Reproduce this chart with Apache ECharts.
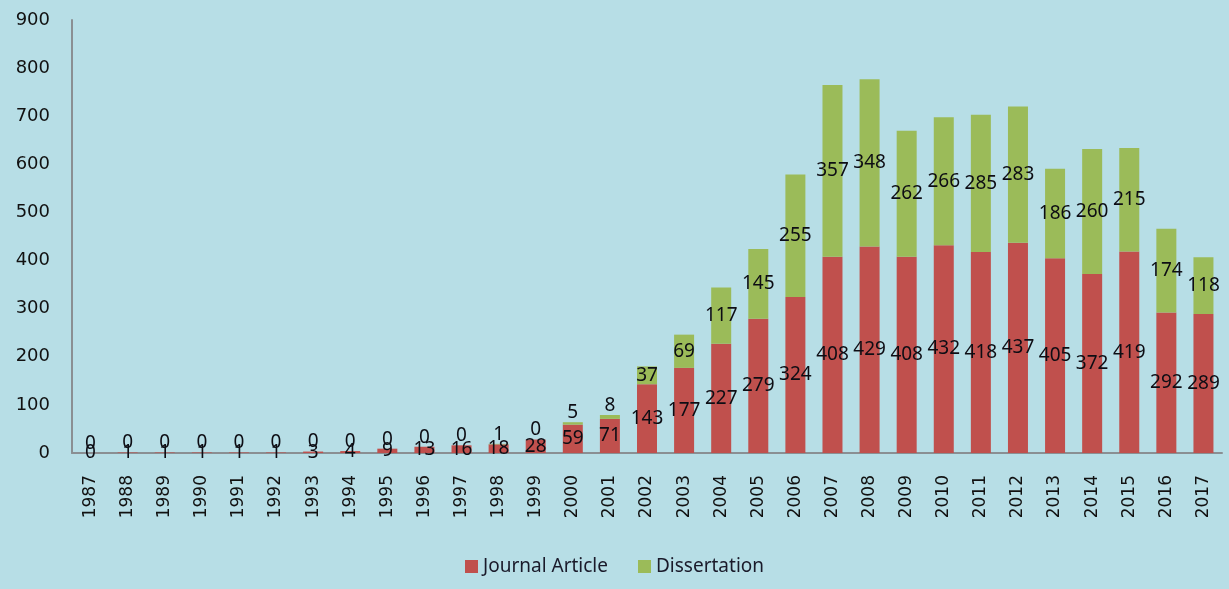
<!DOCTYPE html>
<html>
<head>
<meta charset="utf-8">
<title>Journal Article / Dissertation</title>
<script src="https://cdn.jsdelivr.net/npm/echarts@6/dist/echarts.min.js"></script>
<style>
  html, body { margin: 0; padding: 0; background: #b7dee6; }
  #chart { width: 1229px; height: 589px; }
</style>
</head>
<body>
<div id="chart"></div>
<script>
// 年份
const years = ['1987', '1988', '1989', '1990', '1991', '1992', '1993', '1994', '1995', '1996',
  '1997', '1998', '1999', '2000', '2001', '2002', '2003', '2004', '2005', '2006',
  '2007', '2008', '2009', '2010', '2011', '2012', '2013', '2014', '2015', '2016', '2017']
// 期刊论文
const journalArticle = [0, 1, 1, 1, 1, 1, 3, 4, 9, 13, 16, 18, 28, 59, 71, 143, 177, 227, 279, 324,
  408, 429, 408, 432, 418, 437, 405, 372, 419, 292, 289]
// 学位论文
const dissertation = [0, 0, 0, 0, 0, 0, 0, 0, 0, 0, 0, 1, 0, 5, 8, 37, 69, 117, 145, 255,
  357, 348, 262, 266, 285, 283, 186, 260, 215, 174, 118]
const yTicks = { min: 0, max: 900, interval: 100 }

const chart = echarts.init(document.getElementById('chart'))

const labelFont = {
  color: '#0d0d14',
  fontFamily: 'Noto Sans',
  fontSize: 19
}

// 小数值的标签放到柱子上方，避免和下面的数字重叠
const dissData = dissertation.map(v => {
  if (v < 15) {
    return { value: v, label: { position: 'top', distance: 0 } }
  }
  return v
})

const option = {
  backgroundColor: '#b7dee6',
  animation: false,
  grid: {
    left: 72,
    right: 7,
    top: 20,
    bottom: 136
  },
  legend: {
    bottom: 8,
    left: 'center',
    itemWidth: 13,
    itemHeight: 13,
    itemGap: 30,
    icon: 'rect',
    textStyle: {
      color: '#1a1a2a',
      fontFamily: 'Noto Sans',
      fontSize: 19
    },
    data: ['Journal Article', 'Dissertation']
  },
  xAxis: {
    type: 'category',
    data: years,
    axisLine: { lineStyle: { color: '#8a8f93', width: 2 } },
    axisTick: { show: false },
    axisLabel: {
      rotate: 90,
      margin: 22,
      color: '#111',
      fontFamily: 'DejaVu Sans',
      fontSize: 17,
      interval: 0
    }
  },
  yAxis: {
    type: 'value',
    min: yTicks.min,
    max: yTicks.max,
    interval: yTicks.interval,
    axisLine: { show: true, lineStyle: { color: '#8a8f93', width: 2 } },
    axisTick: { show: false },
    splitLine: { show: false },
    axisLabel: {
      margin: 22,
      color: '#111',
      fontFamily: 'DejaVu Sans',
      fontSize: 18
    }
  },
  series: [
    {
      name: 'Journal Article',
      type: 'bar',
      stack: 'total',
      barWidth: 20,
      data: journalArticle,
      itemStyle: { color: '#c0504d' },
      label: Object.assign({ show: true, position: 'inside' }, labelFont)
    },
    {
      name: 'Dissertation',
      type: 'bar',
      stack: 'total',
      barWidth: 20,
      data: dissData,
      itemStyle: { color: '#9bbb59' },
      label: Object.assign({ show: true, position: 'inside' }, labelFont)
    }
  ]
}

chart.setOption(option)
</script>
</body>
</html>
